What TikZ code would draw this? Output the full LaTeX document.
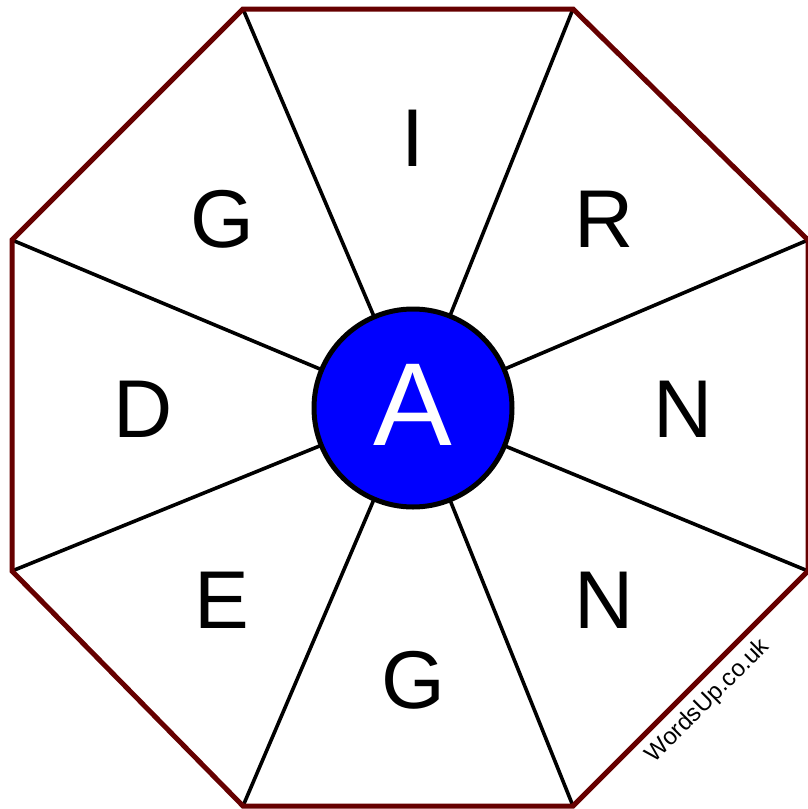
\documentclass[tikz,border=0pt]{standalone}
\usepackage{fontspec}
\setmainfont{Liberation Sans}
\definecolor{octred}{HTML}{660000}
\definecolor{hubblue}{HTML}{0000FF}
\begin{document}
\begin{tikzpicture}[x=1pt,y=-1pt,
  spoke/.style={line width=3.6pt,black},
  octline/.style={line width=5pt,octred,line join=miter},
  letter/.style={anchor=base,inner sep=0pt,font=\fontsize{82}{82}\selectfont},
  hub/.style={circle,draw=black,line width=5pt,fill=hubblue,minimum size=198pt,inner sep=0pt},
  wmark/.style={font=\fontsize{24}{24}\selectfont,rotate=45,inner sep=0pt}]
\useasboundingbox (0,0) rectangle (808,809);
\coordinate (o) at (413,408);
\coordinate (v1) at (243,9);
\coordinate (v2) at (573,9);
\coordinate (v3) at (808,240);
\coordinate (v4) at (808,571);
\coordinate (v5) at (573,806);
\coordinate (v6) at (243,806);
\coordinate (v7) at (12,571);
\coordinate (v8) at (12,240);
\foreach \v in {v1,v2,v3,v4,v5,v6,v7,v8} \draw[spoke] (\v) -- (o);
\draw[octline] (v1) -- (v2) -- (v3) -- (v4) -- (v5) -- (v6) -- (v7) -- (v8) -- cycle;
\node[hub] (hub) at (o) {};
\node[anchor=base,inner sep=0pt,text=white,font=\fontsize{118}{118}\selectfont] (la) at (413,445) {A};
\node[letter] (li) at (413,166) {I};
\node[letter] (lr) at (604,247) {R};
\node[letter] (ln1) at (683,437) {N};
\node[letter] (ln2) at (604,628) {N};
\node[letter] (lg2) at (413,708) {G};
\node[letter] (le) at (222,628) {E};
\node[letter] (ld) at (143,437) {D};
\node[letter] (lg1) at (222,247) {G};
\node[wmark] (wm) at (708,701) {WordsUp.co.uk};
\end{tikzpicture}
\end{document}
